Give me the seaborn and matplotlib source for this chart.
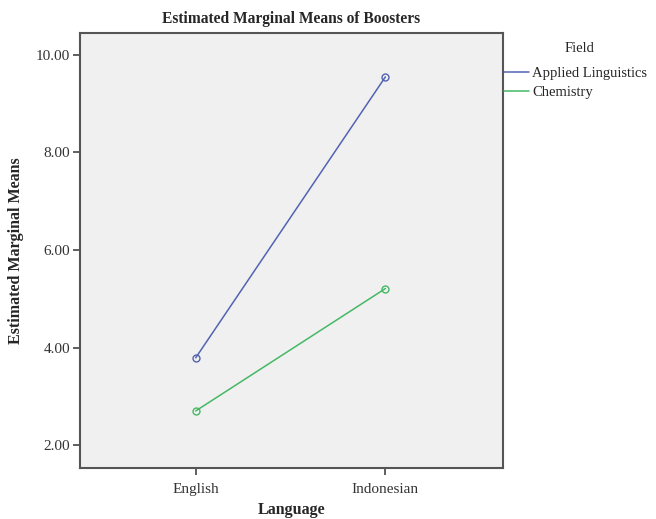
import pandas as pd
import matplotlib
matplotlib.use("Agg")
import matplotlib.pyplot as plt
from matplotlib.lines import Line2D
import seaborn as sns

# Estimated marginal means
languages = ['English', 'Indonesian']
fields = ['Applied Linguistics', 'Chemistry']
applied_linguistics = [3.79, 9.55]
chemistry = [2.70, 5.21]
y_ticks = [2, 4, 6, 8, 10]

df = pd.DataFrame({
    'Language': languages * 2,
    'Field': [fields[0]] * 2 + [fields[1]] * 2,
    'Mean': applied_linguistics + chemistry,
})

sns.set_style("white")
plt.rcParams['font.family'] = ['Liberation Serif', 'DejaVu Serif']

palette = {'Applied Linguistics': '#5363B3', 'Chemistry': '#45B865'}

fig = plt.figure(figsize=(6.56, 5.19), dpi=100)
ax = fig.add_axes([80 / 656, 1 - 468 / 519, 423 / 656, 435 / 519])
ax.set_facecolor('#F0F0F0')

sns.pointplot(data=df, x='Language', y='Mean', hue='Field', order=languages,
              hue_order=fields, palette=palette, markers='o', errorbar=None,
              markersize=5, markerfacecolor='none', markeredgewidth=1,
              linewidth=1.1, legend=False, ax=ax)

ax.set_xlim(-0.61, 1.62)
ax.set_ylim(1.53, 10.45)
ax.set_yticks(y_ticks)
ax.set_yticklabels([f'{v:.2f}' for v in y_ticks])
ax.tick_params(axis='both', direction='out', length=5, width=1.2, color='#444444',
               labelsize=11, labelcolor='#333333', left=True, bottom=True)
ax.tick_params(axis='x', pad=6)
ax.tick_params(axis='y', pad=2)

for side, sp in ax.spines.items():
    sp.set_color('#555555')
    sp.set_linewidth(1.5)

ax.set_title('Estimated Marginal Means of Boosters', fontsize=11.2, fontweight='bold', pad=7)
ax.set_xlabel('Language', fontsize=11.5, fontweight='bold', labelpad=4)
ax.set_ylabel('Estimated Marginal Means', fontsize=11.5, fontweight='bold', labelpad=9)

# legend: title placed separately to get the wider gap seen in the original
fig.text(580 / 656, 1 - 48 / 519, 'Field', ha='center', va='center', fontsize=10.5)
handles = [Line2D([], [], color=palette[f], linewidth=1.1) for f in fields]
leg = fig.legend(handles, fields, loc='upper left',
                 bbox_to_anchor=(504 / 656, 1 - 67 / 519), frameon=False,
                 fontsize=10.5, handlelength=1.7, handletextpad=0.25,
                 labelspacing=0.4, borderaxespad=0, borderpad=0)

fig.savefig('out.png', dpi=100)
